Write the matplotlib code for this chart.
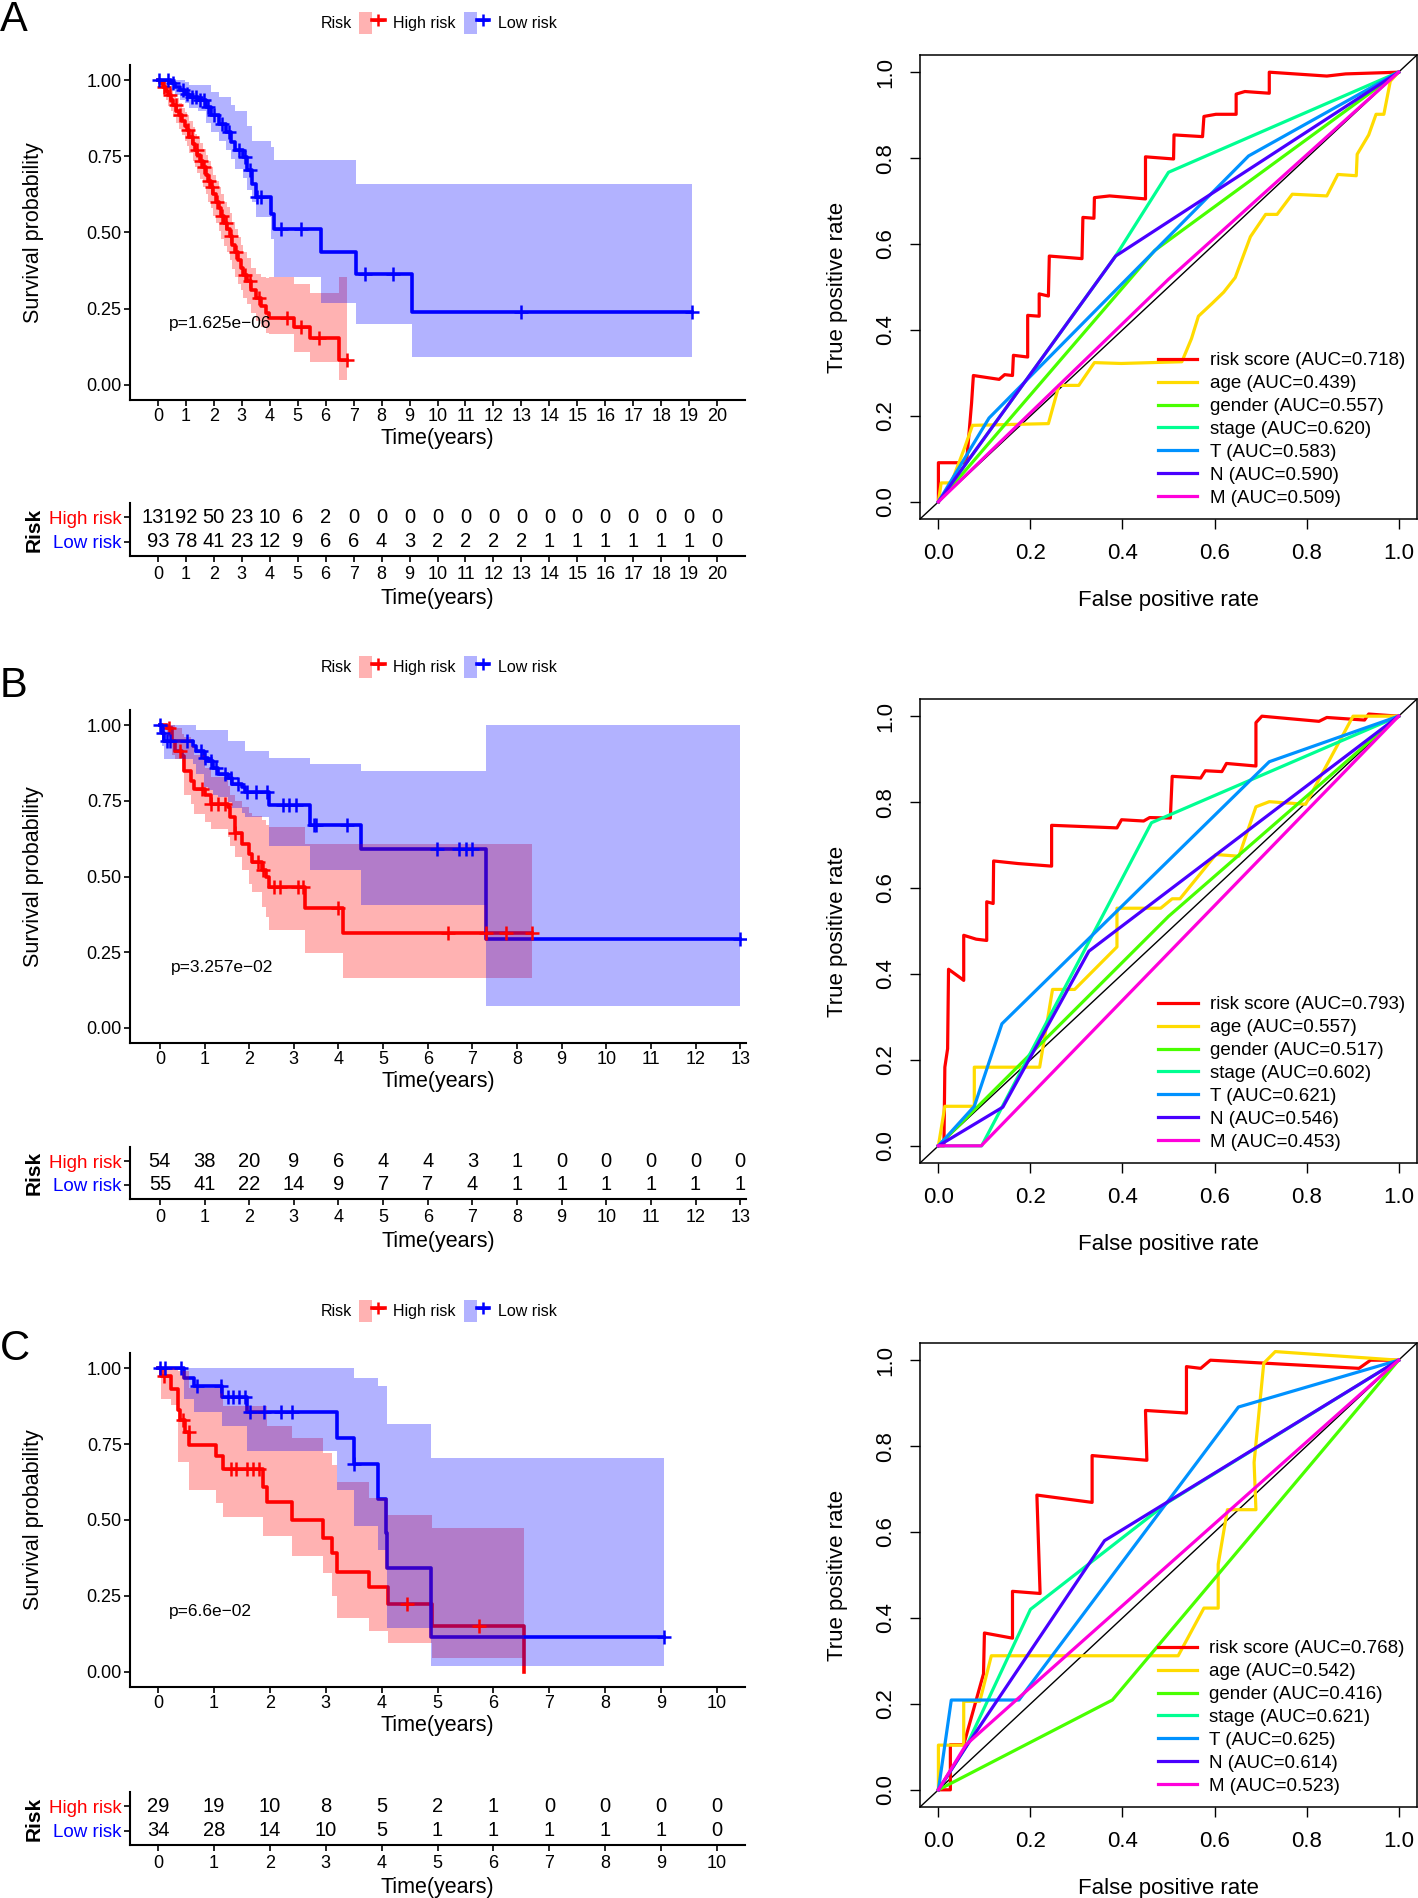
"""
Survival curves with risk tables and ROC curves for three cohorts
"""

import matplotlib

matplotlib.use("Agg")
import matplotlib.pyplot as plt
import numpy as np
from matplotlib.legend_handler import HandlerTuple
from matplotlib.lines import Line2D
from matplotlib.patches import Patch

plt.rcParams["font.family"] = ["Liberation Sans", "DejaVu Sans"]

W, H = 1418, 1898
RED, BLUE = "#FF0000", "#0000FF"

# ---------------- Kaplan-Meier data (time in years) ----------------
A_HIGH_T = [0, 0.08, 0.17, 0.29, 0.36, 0.47, 0.55, 0.66, 0.74, 0.86, 0.95, 1.03, 1.12, 1.25,
            1.33, 1.41, 1.52, 1.6, 1.71, 1.79, 1.88, 1.97, 2.08, 2.17, 2.26, 2.38, 2.46, 2.57,
            2.66, 2.74, 2.85, 2.97, 3.06, 3.17, 3.32, 3.52, 3.68, 3.85, 3.98, 4.88, 5.45, 6.48]
A_HIGH_S = [1.0, 0.99, 0.978, 0.965, 0.95, 0.935, 0.92, 0.9, 0.885, 0.865, 0.85, 0.835, 0.815,
            0.79, 0.77, 0.755, 0.735, 0.715, 0.69, 0.67, 0.65, 0.625, 0.6, 0.58, 0.555, 0.53,
            0.51, 0.49, 0.46, 0.435, 0.41, 0.385, 0.36, 0.34, 0.31, 0.285, 0.26, 0.235, 0.22,
            0.19, 0.153, 0.081]
A_HIGH_LO = [1.0, 0.975, 0.955, 0.935, 0.915, 0.9, 0.88, 0.86, 0.84, 0.82, 0.8, 0.785, 0.76,
             0.735, 0.715, 0.695, 0.675, 0.65, 0.625, 0.6, 0.58, 0.555, 0.53, 0.505, 0.48,
             0.455, 0.435, 0.41, 0.38, 0.355, 0.33, 0.31, 0.285, 0.265, 0.235, 0.21, 0.19,
             0.17, 0.167, 0.106, 0.074, 0.015]
A_HIGH_UP = [1.0, 1.0, 0.998, 0.99, 0.98, 0.97, 0.955, 0.94, 0.925, 0.91, 0.895, 0.885, 0.865,
             0.845, 0.825, 0.81, 0.795, 0.775, 0.755, 0.735, 0.715, 0.69, 0.67, 0.65, 0.625,
             0.6, 0.585, 0.565, 0.535, 0.51, 0.485, 0.46, 0.435, 0.415, 0.385, 0.365, 0.355,
             0.35, 0.353, 0.33, 0.3, 0.355]
A_HIGH_END = 6.75
A_HIGH_CENS = [0.22, 0.42, 0.63, 0.8, 1.08, 1.2, 1.38, 1.55, 1.65, 1.82, 1.95, 2.13, 2.3, 2.42,
               2.6, 2.8, 3.1, 3.28, 3.6, 4.62, 5.1, 5.75, 6.75]

A_LOW_T = [0, 0.47, 0.62, 0.8, 0.95, 1.1, 1.45, 1.72, 1.88, 2.2, 2.45, 2.6, 2.77, 3.05, 3.18,
           3.35, 3.5, 4.05, 4.15, 5.85, 7.07, 9.09]
A_LOW_S = [1.0, 0.99, 0.978, 0.967, 0.956, 0.945, 0.934, 0.912, 0.885, 0.857, 0.83, 0.797,
           0.77, 0.748, 0.704, 0.66, 0.616, 0.56, 0.512, 0.435, 0.365, 0.24]
A_LOW_LO = [1.0, 0.97, 0.95, 0.935, 0.925, 0.91, 0.9, 0.86, 0.83, 0.8, 0.77, 0.74, 0.71, 0.68,
            0.64, 0.6, 0.55, 0.48, 0.353, 0.27, 0.2, 0.09]
A_LOW_UP = [1.0, 1.0, 1.0, 1.0, 0.995, 0.985, 0.985, 0.985, 0.96, 0.945, 0.945, 0.92, 0.9,
            0.9, 0.85, 0.8, 0.8, 0.78, 0.737, 0.737, 0.66, 0.66]
A_LOW_END = 19.1
A_LOW_CENS = [0.03, 0.35, 0.55, 0.9, 1.05, 1.2, 1.35, 1.5, 1.65, 1.8, 2.0, 2.3, 2.55, 2.9, 3.1,
              3.3, 3.55, 3.7, 4.4, 5.1, 7.4, 8.4, 13.0, 19.1]

B_HIGH_T = [0, 0.16, 0.27, 0.33, 0.49, 0.54, 0.7, 0.76, 1.0, 1.15, 1.52, 1.57, 1.68, 1.84, 2.0,
            2.06, 2.28, 2.38, 2.44, 3.25, 4.1]
B_HIGH_S = [1.0, 0.989, 0.947, 0.915, 0.898, 0.849, 0.816, 0.789, 0.77, 0.74, 0.728, 0.695,
            0.645, 0.608, 0.575, 0.548, 0.52, 0.498, 0.465, 0.395, 0.315]
B_HIGH_LO = [1.0, 0.96, 0.9, 0.887, 0.85, 0.77, 0.74, 0.707, 0.68, 0.657, 0.63, 0.6, 0.564,
             0.52, 0.476, 0.45, 0.4, 0.367, 0.323, 0.246, 0.166]
B_HIGH_UP = [1.0, 1.0, 1.0, 0.99, 0.97, 0.96, 0.93, 0.9, 0.86, 0.83, 0.8, 0.77, 0.75, 0.73,
             0.71, 0.7, 0.685, 0.67, 0.663, 0.608, 0.608]
B_HIGH_END = 8.34
B_HIGH_CENS = [0.2, 0.45, 0.95, 1.15, 1.3, 1.45, 1.68, 2.2, 2.3, 2.55, 2.7, 3.1, 3.2, 4.0,
               6.45, 7.31, 7.75, 8.34]

B_LOW_T = [0, 0.05, 0.1, 0.75, 0.81, 0.98, 1.08, 1.19, 1.3, 1.52, 1.62, 1.84, 1.9, 2.44, 3.36,
           4.5, 7.31]
B_LOW_S = [1.0, 0.975, 0.947, 0.93, 0.915, 0.893, 0.882, 0.86, 0.838, 0.827, 0.805, 0.794,
           0.778, 0.735, 0.67, 0.59, 0.295]
B_LOW_LO = [1.0, 0.93, 0.887, 0.87, 0.838, 0.795, 0.785, 0.77, 0.761, 0.745, 0.725, 0.71,
            0.696, 0.6, 0.52, 0.405, 0.071]
B_LOW_UP = [1.0, 1.0, 1.0, 1.0, 0.985, 0.985, 0.985, 0.985, 0.985, 0.947, 0.947, 0.947, 0.915,
            0.89, 0.87, 0.849, 1.0]
B_LOW_END = 13.0
B_LOW_CENS = [0.0, 0.08, 0.15, 0.22, 0.6, 0.92, 1.02, 1.15, 1.25, 1.45, 1.6, 1.75, 1.95, 2.15,
              2.4, 2.75, 2.9, 3.05, 3.45, 3.5, 4.2, 6.2, 6.7, 6.85, 7.0, 13.0]

C_HIGH_T = [0, 0.05, 0.24, 0.35, 0.39, 0.48, 0.56, 1.04, 1.17, 1.88, 1.95, 2.39, 2.95, 3.12,
            3.2, 3.77, 4.12, 4.9, 6.55]
C_HIGH_S = [1.0, 0.973, 0.93, 0.863, 0.83, 0.79, 0.748, 0.71, 0.668, 0.61, 0.56, 0.5, 0.44,
            0.39, 0.33, 0.278, 0.224, 0.15, 0.0]
C_HIGH_LO = [1.0, 0.9, 0.88, 0.69, 0.69, 0.69, 0.6, 0.556, 0.51, 0.447, 0.447, 0.383, 0.326,
             0.25, 0.178, 0.135, 0.096, 0.047, 0.0]
C_HIGH_UP = [1.0, 1.0, 1.0, 0.99, 0.99, 0.99, 0.935, 0.935, 0.875, 0.875, 0.81, 0.77, 0.72,
             0.68, 0.625, 0.573, 0.518, 0.474, 0.474]
C_HIGH_END = 6.55
C_HIGH_CENS = [0.1, 0.45, 0.55, 1.3, 1.4, 1.6, 1.7, 1.8, 4.45, 5.75]

C_LOW_T = [0, 0.47, 0.65, 1.15, 1.6, 3.2, 3.5, 3.93, 4.08, 4.1, 4.88]
C_LOW_S = [1.0, 0.967, 0.94, 0.905, 0.857, 0.77, 0.685, 0.57, 0.458, 0.343, 0.115]
C_LOW_LO = [1.0, 0.9, 0.857, 0.808, 0.726, 0.6, 0.48, 0.4, 0.35, 0.145, 0.02]
C_LOW_UP = [1.0, 1.0, 1.0, 1.0, 1.0, 1.0, 0.967, 0.94, 0.94, 0.817, 0.704]
C_LOW_END = 9.05
C_LOW_CENS = [0.04, 0.13, 0.42, 0.69, 1.13, 1.25, 1.35, 1.45, 1.55, 1.65, 1.9, 2.2, 2.4, 3.51,
              9.05]

P_VALUES = ["p=1.625e\u221206", "p=3.257e\u221202", "p=6.6e\u221202"]

# numbers at risk, one value per whole year
A_RISK_HIGH = [131, 92, 50, 23, 10, 6, 2, 0, 0, 0, 0, 0, 0, 0, 0, 0, 0, 0, 0, 0, 0]
A_RISK_LOW = [93, 78, 41, 23, 12, 9, 6, 6, 4, 3, 2, 2, 2, 2, 1, 1, 1, 1, 1, 1, 0]
B_RISK_HIGH = [54, 38, 20, 9, 6, 4, 4, 3, 1, 0, 0, 0, 0, 0]
B_RISK_LOW = [55, 41, 22, 14, 9, 7, 7, 4, 1, 1, 1, 1, 1, 1]
C_RISK_HIGH = [29, 19, 10, 8, 5, 2, 1, 0, 0, 0, 0]
C_RISK_LOW = [34, 28, 14, 10, 5, 1, 1, 1, 1, 1, 0]

# ---------------- ROC data ----------------
ROC_NAMES = ["risk score", "age", "gender", "stage", "T", "N", "M"]
ROC_COLORS = ["#FF0000", "#FFDB00", "#49FF00", "#00FF92", "#0092FF", "#4900FF", "#FF00DB"]

A_AUC = [0.718, 0.439, 0.557, 0.620, 0.583, 0.590, 0.509]
A_FPR = [
    [0, 0, 0.061, 0.065, 0.072, 0.076, 0.132, 0.144, 0.161, 0.163, 0.194, 0.194, 0.219, 0.219,
     0.239, 0.241, 0.312, 0.314, 0.338, 0.339, 0.372, 0.45, 0.45, 0.511, 0.512, 0.574, 0.577,
     0.603, 0.647, 0.647, 0.666, 0.719, 0.719, 0.844, 0.885, 0.943, 1.0],
    [0, 0.006, 0.028, 0.057, 0.074, 0.239, 0.262, 0.305, 0.339, 0.397, 0.529, 0.55, 0.565,
     0.595, 0.62, 0.645, 0.678, 0.711, 0.736, 0.769, 0.844, 0.868, 0.908, 0.91, 0.935, 0.951,
     0.968, 0.982, 1.0],
    [0, 0.47, 1.0],
    [0, 0.385, 0.5, 1.0],
    [0, 0.11, 0.674, 1.0],
    [0, 0.385, 1.0],
    [0, 0.5, 1.0],
]
A_TPR = [
    [0, 0.091, 0.091, 0.14, 0.229, 0.294, 0.285, 0.296, 0.294, 0.341, 0.337, 0.434, 0.432,
     0.484, 0.479, 0.572, 0.566, 0.662, 0.66, 0.708, 0.712, 0.705, 0.803, 0.798, 0.854, 0.85,
     0.897, 0.902, 0.902, 0.949, 0.955, 0.951, 1.0, 0.991, 0.996, 0.998, 1.0],
    [0, 0.044, 0.044, 0.126, 0.178, 0.182, 0.271, 0.271, 0.324, 0.322, 0.326, 0.38, 0.432,
     0.462, 0.488, 0.522, 0.617, 0.669, 0.669, 0.716, 0.712, 0.762, 0.759, 0.809, 0.854, 0.902,
     0.902, 0.979, 1.0],
    [0, 0.585, 1.0],
    [0, 0.572, 0.767, 1.0],
    [0, 0.195, 0.805, 1.0],
    [0, 0.572, 1.0],
    [0, 0.518, 1.0],
]

B_AUC = [0.793, 0.557, 0.517, 0.602, 0.621, 0.546, 0.453]
B_FPR = [
    [0, 0.012, 0.014, 0.02, 0.022, 0.049, 0.055, 0.055, 0.082, 0.105, 0.105, 0.119, 0.12, 0.173,
     0.246, 0.246, 0.388, 0.398, 0.446, 0.459, 0.504, 0.508, 0.57, 0.58, 0.616, 0.626, 0.69,
     0.69, 0.703, 0.827, 0.844, 0.926, 0.935, 1.0],
    [0, 0.014, 0.078, 0.078, 0.22, 0.248, 0.296, 0.388, 0.388, 0.483, 0.508, 0.525, 0.603,
     0.653, 0.69, 0.719, 0.798, 0.901, 1.0],
    [0, 0.5, 1.0],
    [0, 0.094, 0.463, 1.0],
    [0, 0.078, 0.138, 0.719, 1.0],
    [0, 0.14, 0.327, 1.0],
    [0, 0.093, 1.0],
]
B_TPR = [
    [0, 0, 0.183, 0.226, 0.411, 0.39, 0.385, 0.49, 0.481, 0.478, 0.568, 0.564, 0.663, 0.657,
     0.651, 0.746, 0.74, 0.759, 0.756, 0.764, 0.763, 0.86, 0.856, 0.873, 0.871, 0.89, 0.884,
     0.985, 1.0, 0.988, 0.997, 0.991, 1.005, 1.0],
    [0, 0.092, 0.092, 0.183, 0.183, 0.364, 0.364, 0.463, 0.553, 0.553, 0.575, 0.575, 0.678,
     0.674, 0.789, 0.801, 0.795, 1.0, 1.0],
    [0, 0.534, 1.0],
    [0, 0, 0.752, 1.0],
    [0, 0.092, 0.284, 0.894, 1.0],
    [0, 0.09, 0.453, 1.0],
    [0, 0, 1.0],
]

C_AUC = [0.768, 0.542, 0.416, 0.621, 0.625, 0.614, 0.523]
C_FPR = [
    [0, 0.026, 0.026, 0.055, 0.098, 0.1, 0.161, 0.161, 0.221, 0.214, 0.334, 0.334, 0.453, 0.45,
     0.539, 0.539, 0.57, 0.591, 0.914, 0.939, 1.0],
    [0, 0, 0.055, 0.055, 0.09, 0.115, 0.521, 0.577, 0.608, 0.608, 0.628, 0.69, 0.686, 0.707,
     0.732, 1.0],
    [0, 0.378, 1.0],
    [0, 0.06, 0.2, 0.5, 1.0],
    [0, 0.028, 0.175, 0.652, 1.0],
    [0, 0.06, 0.361, 1.0],
    [0, 0.06, 1.0],
]
C_TPR = [
    [0, 0, 0.105, 0.105, 0.27, 0.365, 0.353, 0.462, 0.457, 0.686, 0.669, 0.778, 0.767, 0.883,
     0.877, 0.985, 0.981, 1.0, 0.981, 1.0, 1.0],
    [0, 0.104, 0.104, 0.206, 0.206, 0.312, 0.312, 0.423, 0.423, 0.525, 0.652, 0.652, 0.762,
     0.993, 1.02, 1.0],
    [0, 0.209, 1.0],
    [0, 0.1, 0.42, 0.67, 1.0],
    [0, 0.209, 0.209, 0.891, 1.0],
    [0, 0.1, 0.58, 1.0],
    [0, 0.105, 1.0],
]


def fig_box(x0, y0, x1, y1):
    """pixel box (top-left origin) to figure fraction rect"""
    return [x0 / W, 1 - y1 / H, (x1 - x0) / W, (y1 - y0) / H]


def step_value(times, values, t):
    idx = np.searchsorted(times, t, side="right") - 1
    return np.asarray(values)[idx]


def draw_km(fig, ax, curves, xlim, n_years, pval, legend_y):
    ax.set_xlim(*xlim)
    ax.set_ylim(-0.05, 1.05)
    prepared = []
    for times, surv, lo, up, end, cens, color in curves:
        t = np.append(times, end)
        prepared.append((t, np.append(surv, surv[-1]), np.append(lo, lo[-1]),
                         np.append(up, up[-1]), color, times, surv, cens))
    for t, s, lo, up, color, times, surv, cens in prepared:
        ax.step(t, s, where="post", color=color, lw=2.6, zorder=2)
    for t, s, lo, up, color, times, surv, cens in prepared:
        ax.fill_between(t, lo, up, step="post", color=color, alpha=0.3, lw=0, zorder=3)
    for t, s, lo, up, color, times, surv, cens in prepared:
        ax.plot(cens, step_value(times, surv, cens), ls="none", marker="+", ms=10, mew=1.8,
                color=color, zorder=4)

    ax.annotate(pval, xy=(0, 0.2), xytext=(8, 0), textcoords="offset points",
                ha="left", va="center", fontsize=12.5)

    ax.set_xticks(range(n_years + 1))
    ax.set_yticks([0, 0.25, 0.5, 0.75, 1.0])
    ax.set_yticklabels(["0.00", "0.25", "0.50", "0.75", "1.00"])
    ax.tick_params(labelsize=13, length=4, width=1.2, pad=2)
    for side in ("top", "right"):
        ax.spines[side].set_visible(False)
    for side in ("left", "bottom"):
        ax.spines[side].set_linewidth(1.5)
    ax.set_xlabel("Time(years)", fontsize=15.5, labelpad=2)
    ax.set_ylabel("Survival probability", fontsize=15.5)
    ax.yaxis.set_label_coords(-0.14, 0.5)

    handles = []
    for color in (RED, BLUE):
        handles.append((Patch(facecolor=color, alpha=0.3, edgecolor="none"),
                        Line2D([], [], color=color, lw=2.6, marker="+", ms=9, mew=1.8)))
    ax.legend(handles, ["High risk", "Low risk"], ncol=2, loc="center",
              bbox_to_anchor=(458 / W, 1 - legend_y / H), bbox_transform=fig.transFigure,
              frameon=False, fontsize=11.5, handlelength=1.6, handleheight=1.7,
              handletextpad=0.55, columnspacing=0.5, borderpad=0,
              handler_map={tuple: HandlerTuple(ndivide=None, pad=0)})
    fig.text(352 / W, 1 - legend_y / H, "Risk", ha="right", va="center", fontsize=11.5)


def draw_table(ax, xlim, high, low):
    ax.set_xlim(*xlim)
    ax.set_ylim(0.4, 2.6)
    for t, (h, l) in enumerate(zip(high, low)):
        ax.text(t, 2, str(h), ha="center", va="center", fontsize=14.5)
        ax.text(t, 1, str(l), ha="center", va="center", fontsize=14.5)
    ax.set_xticks(range(len(high)))
    ax.set_yticks([2, 1])
    ax.set_yticklabels(["High risk", "Low risk"], fontsize=13.5)
    for lab, color in zip(ax.get_yticklabels(), (RED, BLUE)):
        lab.set_color(color)
    ax.tick_params(axis="x", labelsize=13, length=4, width=1.2, pad=3)
    ax.tick_params(axis="y", length=4, width=1.2, pad=2)
    for side in ("top", "right"):
        ax.spines[side].set_visible(False)
    for side in ("left", "bottom"):
        ax.spines[side].set_linewidth(1.5)
    ax.set_xlabel("Time(years)", fontsize=15.5, labelpad=4)
    ax.set_ylabel("Risk", fontsize=15, fontweight="bold")
    ax.yaxis.set_label_coords(-0.14, 0.5)


def draw_roc(ax, fprs, tprs, aucs):
    ax.axline((0, 0), slope=1, color="black", lw=1.0, zorder=1)
    for fpr, tpr, auc, name, color in zip(fprs, tprs, aucs, ROC_NAMES, ROC_COLORS):
        ax.plot(fpr, tpr, color=color, lw=2.3, label=f"{name} (AUC={auc:.3f})")
    ax.set_xlim(-0.04, 1.04)
    ax.set_ylim(-0.04, 1.04)
    ticks = [0, 0.2, 0.4, 0.6, 0.8, 1.0]
    ax.set_xticks(ticks)
    ax.set_yticks(ticks)
    ax.set_xticklabels([f"{v:.1f}" for v in ticks])
    ax.set_yticklabels([f"{v:.1f}" for v in ticks], rotation=90, va="center")
    ax.tick_params(labelsize=16, length=7, width=1.0, pad=10)
    for side in ax.spines.values():
        side.set_linewidth(1.1)
    ax.set_xlabel("False positive rate", fontsize=16, labelpad=19)
    ax.set_ylabel("True positive rate", fontsize=16, labelpad=20)
    ax.legend(loc="lower right", frameon=False, fontsize=13.5, handlelength=2.1,
              handletextpad=0.65, labelspacing=0.31, borderpad=0.3, borderaxespad=0.35)


fig = plt.figure(figsize=(W / 100, H / 100), dpi=100)

panels = [
    ("A", 20, 23, (130, 65, 745, 400), (130, 503, 745, 556), (-1.0, 21.0), 20,
     [(A_HIGH_T, A_HIGH_S, A_HIGH_LO, A_HIGH_UP, A_HIGH_END, A_HIGH_CENS, RED),
      (A_LOW_T, A_LOW_S, A_LOW_LO, A_LOW_UP, A_LOW_END, A_LOW_CENS, BLUE)],
     A_RISK_HIGH, A_RISK_LOW, (55, 519), A_FPR, A_TPR, A_AUC),
    ("B", 686, 667, (130, 710, 746, 1043), (130, 1147, 746, 1199), (-0.67, 13.13), 13,
     [(B_HIGH_T, B_HIGH_S, B_HIGH_LO, B_HIGH_UP, B_HIGH_END, B_HIGH_CENS, RED),
      (B_LOW_T, B_LOW_S, B_LOW_LO, B_LOW_UP, B_LOW_END, B_LOW_CENS, BLUE)],
     B_RISK_HIGH, B_RISK_LOW, (699, 1163), B_FPR, B_TPR, B_AUC),
    ("C", 1349, 1311, (130, 1353, 745, 1687), (130, 1792, 745, 1845), (-0.5, 10.5), 10,
     [(C_HIGH_T, C_HIGH_S, C_HIGH_LO, C_HIGH_UP, C_HIGH_END, C_HIGH_CENS, RED),
      (C_LOW_T, C_LOW_S, C_LOW_LO, C_LOW_UP, C_LOW_END, C_LOW_CENS, BLUE)],
     C_RISK_HIGH, C_RISK_LOW, (1343, 1807), C_FPR, C_TPR, C_AUC),
]

for i, (letter, letter_y, legend_y, km_box, tab_box, xlim, n_years, curves,
        risk_high, risk_low, roc_y, fprs, tprs, aucs) in enumerate(panels):
    fig.text(0, 1 - letter_y / H, letter, fontsize=30, ha="left", va="center")
    ax_km = fig.add_axes(fig_box(*km_box))
    draw_km(fig, ax_km, curves, xlim, n_years, P_VALUES[i], legend_y)
    ax_tab = fig.add_axes(fig_box(*tab_box))
    draw_table(ax_tab, xlim, risk_high, risk_low)
    ax_roc = fig.add_axes(fig_box(920, roc_y[0], 1417, roc_y[1]))
    draw_roc(ax_roc, fprs, tprs, aucs)

fig.savefig("out.png", dpi=100)
